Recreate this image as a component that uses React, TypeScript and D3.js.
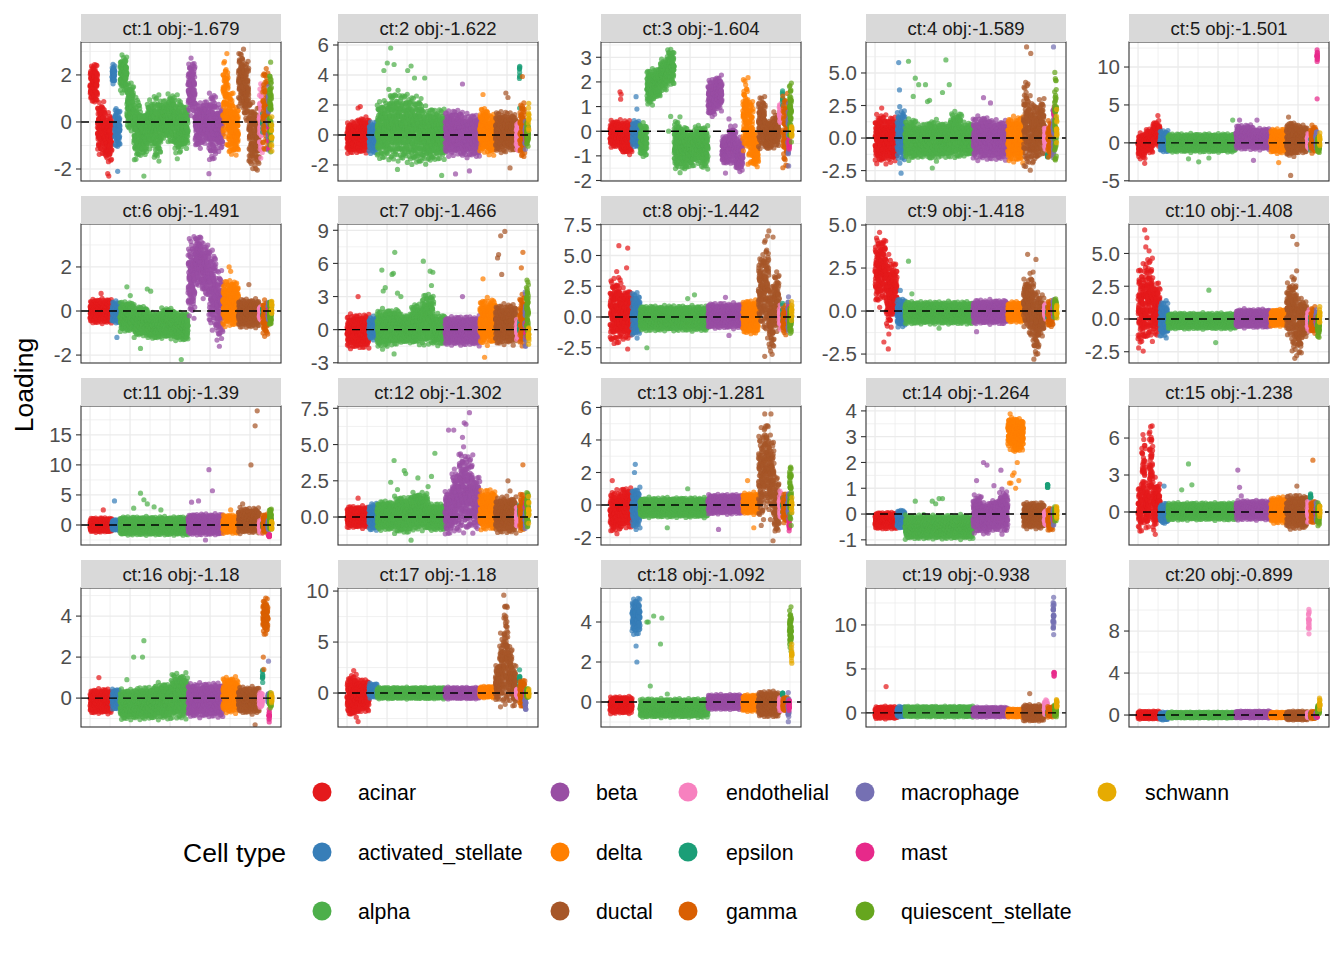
import * as d3 from 'd3';
import { useEffect, useRef } from 'react';

// cell types in plotting order (cells are sorted by type along x)
const cellTypes = [
    'acinar', 'activated_stellate', 'alpha', 'beta', 'delta', 'ductal', 'endothelial',
    'epsilon', 'gamma', 'macrophage', 'mast', 'quiescent_stellate', 'schwann',
];
const typeColors = [
    '#E41A1C', '#377EB8', '#4DAF4A', '#984EA3', '#FF7F00', '#A65628', '#F781BF',
    '#1B9E77', '#D95F02', '#7570B3', '#E7298A', '#66A61E', '#E6AB02',
];
// number of cells of each type (x axis = cell index)
const cellCounts = [550, 200, 1700, 870, 390, 520, 80, 8, 130, 25, 12, 50, 12];

const panelTitles = [
    'ct:1 obj:-1.679', 'ct:2 obj:-1.622', 'ct:3 obj:-1.604', 'ct:4 obj:-1.589', 'ct:5 obj:-1.501',
    'ct:6 obj:-1.491', 'ct:7 obj:-1.466', 'ct:8 obj:-1.442', 'ct:9 obj:-1.418', 'ct:10 obj:-1.408',
    'ct:11 obj:-1.39', 'ct:12 obj:-1.302', 'ct:13 obj:-1.281', 'ct:14 obj:-1.264', 'ct:15 obj:-1.238',
    'ct:16 obj:-1.18', 'ct:17 obj:-1.18', 'ct:18 obj:-1.092', 'ct:19 obj:-0.938', 'ct:20 obj:-0.899',
];

const yDomains: [number, number][] = [
    [-2.51, 3.4], [-3.07, 6.2], [-2.02, 3.62], [-3.3, 7.38], [-5.03, 13.3],
    [-2.36, 3.95], [-3.02, 9.57], [-3.74, 7.56], [-3.02, 5.06], [-3.36, 7.25],
    [-3.33, 19.8], [-1.93, 7.66], [-2.46, 6.09], [-1.2, 4.19], [-2.68, 8.6],
    [-1.41, 5.37], [-3.33, 10.3], [-1.25, 5.7], [-1.6, 14.2], [-1.14, 12.1],
];

const yTicks: number[][] = [
    [-2, 0, 2], [-2, 0, 2, 4, 6], [-2, -1, 0, 1, 2, 3], [-2.5, 0, 2.5, 5], [-5, 0, 5, 10],
    [-2, 0, 2], [-3, 0, 3, 6, 9], [-2.5, 0, 2.5, 5, 7.5], [-2.5, 0, 2.5, 5], [-2.5, 0, 2.5, 5],
    [0, 5, 10, 15], [0, 2.5, 5, 7.5], [-2, 0, 2, 4, 6], [-1, 0, 1, 2, 3, 4], [0, 3, 6],
    [0, 2, 4], [0, 5, 10], [0, 2, 4], [0, 5, 10], [0, 4, 8],
];

// per panel, per cell type: loading bands [low, high],
// one band per consecutive stretch of that type's cells
const bands: number[][][][] = [
    [
        [[0.7, 2.6], [-1.5, 1.0], [-1.8, 0.5]],
        [[1.6, 2.5], [-1.2, 0.8], [-1.2, 0.6]],
        [[1.2, 2.9], [-0.5, 1.8], [-1.8, 1.2], [-1.5, 0.5], [-1.2, 1.0], [-1.8, 1.3], [-0.8, 1.0], [-1.0, 1.3], [-1.6, 1.2], [-1.2, 0.8]],
        [[0.2, 2.8], [-1.2, 0.9], [-1.0, 1.0], [-1.8, 1.4], [-1.3, 0.8]],
        [[-1.0, 3.0], [-1.6, 1.5], [-1.5, 0.8]],
        [[0.5, 3.2], [-0.2, 2.8], [-2.1, 1.0], [-2.2, 0.8]],
        [[-1.8, 2.0]], [[-0.5, 0.5]], [[-1.5, 2.6]], [[-1.8, 2.0]], [[-1.5, 0.5]], [[-1.5, 2.7]], [[-1.5, 0.5]],
    ],
    [
        [[-1.3, 1.0], [-1.3, 1.3]],
        [[-1.3, 1.0]],
        [[-1.8, 2.5], [-1.9, 3.2], [-2.0, 3.0], [-2.2, 2.8], [-2.0, 2.0], [-1.8, 1.9]],
        [[-1.5, 1.8], [-1.6, 1.5]],
        [[-1.3, 2.0], [-1.5, 1.5]],
        [[-1.3, 1.7], [-1.2, 1.6]],
        [[-1.2, 1.0]], [[3.5, 5.0]], [[-1.8, 2.5]], [[-1.0, 1.0]], [[-0.5, 0.5]], [[-0.8, 1.0]], [[0.0, 2.4]],
    ],
    [
        [[-0.7, 0.5], [-1.0, 0.5]],
        [[-0.7, 0.5]],
        [[-1.1, 0.4], [1.0, 2.6], [1.3, 2.6], [1.6, 3.0], [1.8, 3.4], [-1.7, 0.6], [-1.7, 0.3], [-1.5, 0.1], [-1.4, 0.3], [-1.6, 0.3]],
        [[0.5, 2.2], [0.8, 2.3], [-1.4, -0.1], [-1.4, 0.3], [-1.7, -0.2]],
        [[-1.0, 2.3], [-1.5, 1.5], [-1.5, 0.0]],
        [[-0.8, 1.5], [-0.8, 0.5], [-0.7, 0.8]],
        [[0.3, 1.2]], [[0.9, 1.9]], [[-1.6, 1.7]], [[-1.5, 1.3]], [[-0.8, -0.2]], [[-0.5, 2.1]], [[-0.3, 0.3]],
    ],
    [
        [[-2.1, 2.0], [-2.0, 1.8]],
        [[-2.0, 2.5]],
        [[-1.8, 1.6], [-1.6, 1.2], [-1.8, 1.5], [-1.6, 1.3], [-1.7, 2.2], [-1.5, 1.3]],
        [[-1.8, 1.8], [-1.8, 1.5]],
        [[-2.0, 1.8]],
        [[-2.8, 5.0], [-2.5, 3.3], [-2.0, 2.8], [-1.5, 3.3]],
        [[-1.0, 1.0]], [[-1.5, -1.2]], [[-1.6, 1.5]], [[-2.2, 3.0]], [[1.5, 2.5]], [[-2.9, 5.7]], [[-0.5, 1.8]],
    ],
    [
        [[-2.2, 1.5], [-1.5, 2.0], [-0.5, 3.0]],
        [[-1.3, 1.8]],
        [[-1.3, 1.3]],
        [[-1.0, 2.5], [-1.0, 2.0]],
        [[-1.5, 2.0]],
        [[-2.0, 3.0], [-1.5, 2.5]],
        [[-1.0, 1.5]], [[-1.0, 0.5]], [[-1.5, 2.5]], [[-1.0, 2.0]], [[10.5, 12.5]], [[-1.5, 1.0]], [[-0.5, 1.5]],
    ],
    [
        [[-0.6, 0.6]],
        [[-0.6, 0.5]],
        [[-1.0, 0.5], [-1.2, 0.3], [-1.3, 0.0], [-1.3, 0.2], [-1.4, 0.0]],
        [[-0.5, 3.5], [1.0, 3.6], [0.5, 3.2], [-1.0, 3.0], [-1.5, 2.0]],
        [[-0.8, 1.5]],
        [[-0.8, 0.6]],
        [[-0.5, 0.3]], [[-0.3, 0.3]], [[-1.2, 0.6]], [[-0.5, 0.5]], [[-0.3, 0.3]], [[-0.7, 0.5]], [[-0.3, 0.6]],
    ],
    [
        [[-1.8, 1.5]],
        [[-1.0, 1.3]],
        [[-1.8, 2.0], [-1.5, 2.0], [-1.3, 1.5], [-1.5, 2.5], [-1.6, 3.5], [-1.5, 1.5]],
        [[-1.5, 1.3]],
        [[-1.5, 3.0]],
        [[-1.5, 2.5]],
        [[-1.0, 1.0]], [[-0.5, 1.0]], [[-1.8, 3.5]], [[-2.5, 4.0]], [[-1.0, 1.0]], [[-1.0, 4.8]], [[-1.5, 0.5]],
    ],
    [
        [[-2.5, 3.5], [-2.0, 2.5]],
        [[-1.8, 2.2]],
        [[-1.2, 1.0]],
        [[-1.0, 1.2]],
        [[-1.5, 1.5]],
        [[-1.0, 5.5], [-2.0, 7.0], [-3.3, 3.0], [-1.5, 4.0]],
        [[-1.0, 1.0]], [[-0.5, 1.5]], [[-1.5, 1.0]], [[-1.5, 2.0]], [[-0.5, 1.0]], [[-1.5, 1.0]], [[-0.5, 1.5]],
    ],
    [
        [[0.0, 4.7], [0.5, 4.5], [-1.5, 3.5], [-0.5, 3.0]],
        [[-1.0, 0.8]],
        [[-0.8, 0.6]],
        [[-0.8, 0.7]],
        [[-0.7, 0.6]],
        [[-1.0, 2.0], [-2.0, 2.5], [-2.8, 1.5], [-1.5, 1.0]],
        [[-0.5, 0.5]], [[-0.5, 0.3]], [[-1.0, 0.7]], [[-0.5, 0.8]], [[-0.3, 0.3]], [[-0.5, 0.8]], [[-0.5, 0.5]],
    ],
    [
        [[-2.6, 4.5], [-2.0, 5.0], [-1.5, 3.0]],
        [[-1.5, 1.5]],
        [[-0.8, 0.5]],
        [[-0.7, 0.8]],
        [[-0.6, 0.8]],
        [[-1.5, 3.0], [-3.0, 3.8], [-3.0, 2.0], [-1.5, 1.5]],
        [[-1.0, 0.8]], [[-0.5, 0.5]], [[-1.2, 1.0]], [[-0.5, 0.8]], [[-0.3, 0.3]], [[-1.5, 0.5]], [[-0.5, 1.2]],
    ],
    [
        [[-1.3, 1.3]],
        [[-1.0, 1.0]],
        [[-1.8, 1.5]],
        [[-1.8, 2.0]],
        [[-1.5, 1.8]],
        [[-1.5, 3.0]],
        [[-1.5, 1.0]], [[-0.5, 0.5]], [[-1.5, 2.0]], [[-1.0, 1.0]], [[-2.0, -1.5]], [[-1.0, 3.0]], [[-1.0, 1.0]],
    ],
    [
        [[-0.8, 0.8]],
        [[-1.0, 1.0]],
        [[-1.0, 1.2], [-1.2, 1.5], [-1.0, 1.8], [-1.0, 1.0]],
        [[-1.3, 2.0], [-1.2, 3.5], [-1.3, 5.0], [-1.3, 4.5], [-1.0, 3.0]],
        [[-1.0, 2.0]],
        [[-1.2, 1.5]],
        [[-0.8, 0.8]], [[0.0, 1.0]], [[-1.2, 1.8]], [[-1.0, 1.0]], [[0.5, 1.2]], [[-1.0, 2.0]], [[-0.5, 1.5]],
    ],
    [
        [[-1.8, 1.0], [-1.5, 1.2]],
        [[-1.5, 1.2]],
        [[-0.8, 0.5]],
        [[-0.6, 0.7]],
        [[-0.6, 0.8]],
        [[-1.5, 5.0], [-0.5, 5.5], [-1.0, 4.5], [-2.0, 2.0]],
        [[-1.0, 1.0]], [[-0.5, 0.5]], [[-1.2, 0.8]], [[-1.0, 1.0]], [[-1.8, -0.5]], [[-1.5, 2.9]], [[-0.5, 0.5]],
    ],
    [
        [[-0.6, 0.1]],
        [[-0.6, 0.2]],
        [[-1.0, 0.0]],
        [[-0.8, 0.8], [-0.8, 0.5], [-0.7, 0.6], [-0.8, 1.0]],
        [[2.5, 3.9], [2.3, 3.8], [2.4, 3.8]],
        [[-0.6, 0.5]],
        [[-0.5, 0.2]], [[1.0, 1.2]], [[-0.7, 0.3]], [[-0.5, 0.3]], [[-0.3, 0.0]], [[-0.3, 0.3]], [[-0.3, 0.4]],
    ],
    [
        [[-1.8, 2.5], [-2.0, 7.0], [-1.5, 2.5], [-1.0, 7.8], [-2.0, 3.0], [-1.0, 2.5]],
        [[-1.0, 0.8]],
        [[-0.7, 0.8]],
        [[-0.7, 1.0]],
        [[-1.0, 1.3]],
        [[-1.5, 1.5]],
        [[-1.0, 1.0]], [[1.0, 1.6]], [[-1.0, 1.0]], [[-1.0, 1.0]], [[-0.5, 0.5]], [[-1.2, 0.8]], [[-0.5, 0.7]],
    ],
    [
        [[-0.8, 0.5]],
        [[-0.6, 0.5]],
        [[-1.1, 0.5], [-1.1, 0.6], [-1.1, 0.8], [-1.1, 1.3]],
        [[-1.0, 0.8]],
        [[-0.8, 1.1]],
        [[-0.8, 0.6]],
        [[-0.5, 0.3]], [[0.7, 1.5]], [[3.0, 5.0]], [[-0.3, 0.3]], [[-1.2, -0.5]], [[-0.5, 0.3]], [[-0.3, 0.3]],
    ],
    [
        [[-2.5, 2.0], [-2.0, 1.5]],
        [[-0.5, 1.0]],
        [[-0.6, 0.6]],
        [[-0.6, 0.6]],
        [[-0.5, 0.7]],
        [[-1.0, 3.0], [-1.5, 6.0], [-2.0, 9.5], [-1.0, 5.0], [-1.5, 3.0]],
        [[-0.5, 0.5]], [[0.5, 2.5]], [[-1.5, 1.5]], [[-2.0, 0.5]], [[-0.5, 0.5]], [[-0.5, 0.5]], [[-0.5, 0.5]],
    ],
    [
        [[-0.6, 0.3]],
        [[3.3, 5.3]],
        [[-0.8, 0.2]],
        [[-0.4, 0.4]],
        [[-0.5, 0.4]],
        [[-0.8, 0.6]],
        [[-0.5, 0.3]], [[0.3, 0.5]], [[-0.5, 0.3]], [[-1.0, 0.5]], [[-0.5, 0.2]], [[2.5, 4.8]], [[1.8, 3.0]],
    ],
    [
        [[-0.7, 0.8]],
        [[-0.5, 0.8]],
        [[-0.5, 0.8]],
        [[-0.5, 0.7]],
        [[-0.5, 0.5]],
        [[-1.0, 1.0]],
        [[-0.3, 1.5]], [[-0.3, 0.3]], [[-0.5, 0.8]], [[8.7, 13.5]], [[4.0, 4.9], [-0.3, 0.3]], [[-0.5, 1.0]], [[0.5, 1.7]],
    ],
    [
        [[-0.4, 0.4]],
        [[-0.5, 0.3]],
        [[-0.3, 0.3]],
        [[-0.3, 0.4]],
        [[-0.3, 0.3]],
        [[-0.5, 0.4]],
        [[-0.3, 0.3], [7.5, 10.5], [-0.3, 0.3]], [[-0.3, 0.3]], [[-0.4, 0.4]], [[-0.3, 0.3]], [[-0.3, 0.3]], [[0.0, 1.0]], [[0.5, 1.7]],
    ],
];

// single stray cells: [type index, position within that type's cells (0-1), loading]
const outliers: [number, number, number][][] = [
    [[0, 0.8, -2.2], [0, 0.85, -2.3], [1, 0.7, -2.1], [2, 0.35, -2.3], [3, 0.6, -2.2]],
    [[2, 0.1, 4.3], [2, 0.15, 4.8], [2, 0.2, 5.8], [2, 0.25, 4.7], [2, 0.45, 4.3], [2, 0.5, 4.6], [2, 0.55, 3.8], [2, 0.7, 3.8],
     [2, 0.95, -2.7], [2, 0.3, -2.3], [0, 0.5, 1.8], [0, 0.6, 1.9], [3, 0.5, 3.4], [3, 0.3, -2.6], [3, 0.7, -2.4],
     [5, 0.5, 2.8], [5, 0.6, 2.5], [5, 0.7, -2.2], [4, 0.2, 2.7], [8, 0.5, 3.9], [7, 0.5, 1.8]],
    [[0, 0.45, 1.6], [0, 0.5, 1.5], [0, 0.48, 1.3], [1, 0.5, 1.4], [1, 0.6, 0.9], [2, 0.42, 0.0], [2, 0.45, 0.6], [3, 0.5, -1.7], [3, 0.6, 0.5]],
    [[0, 0.3, 2.3], [1, 0.3, 3.7], [1, 0.2, 5.8], [1, 0.5, -2.7], [2, 0.05, 5.9], [2, 0.12, 3.2], [2, 0.15, 4.6], [2, 0.2, 4.1],
     [2, 0.3, 4.1], [2, 0.33, 2.8], [2, 0.36, 2.9], [2, 0.55, 3.5], [2, 0.6, 6.0], [2, 0.65, 4.1], [2, 0.4, -2.3],
     [3, 0.3, 3.1], [3, 0.5, 2.7], [5, 0.15, 7.0], [5, 0.35, 6.5], [9, 0.5, 7.0], [12, 0.3, 2.2]],
    [[0, 0.3, -2.7], [0, 0.9, 3.6], [2, 0.3, -2.1], [2, 0.45, -2.5], [2, 0.6, -2.0], [2, 0.95, 3.0], [3, 0.1, 3.0], [3, 0.6, 3.0],
     [3, 0.5, -2.3], [5, 0.2, -4.3], [5, 0.1, 3.4], [10, 0.3, 5.8], [4, 0.5, -2.6]],
    [[0, 0.5, 0.8], [1, 0.6, -1.2], [2, 0.1, 1.1], [2, 0.15, 0.7], [2, 0.4, 1.0], [2, 0.45, 0.9], [2, 0.3, -1.7], [2, 0.9, -2.2],
     [4, 0.4, 2.0], [4, 0.5, 1.8], [5, 0.5, 1.2], [3, 0.9, -1.6]],
    [[0, 0.5, 3.0], [2, 0.07, 5.4], [2, 0.09, 3.5], [2, 0.12, 3.8], [2, 0.22, 5.0], [2, 0.24, 5.1], [2, 0.26, 7.0], [2, 0.3, 3.3],
     [2, 0.35, 3.0], [2, 0.68, 6.2], [2, 0.78, 5.3], [2, 0.82, 5.2], [2, 0.8, 4.0], [2, 0.25, -2.2], [3, 0.5, 3.0], [4, 0.2, 4.6],
     [4, 0.3, -2.5], [5, 0.1, 6.5], [5, 0.15, 6.8], [5, 0.25, 8.5], [5, 0.45, 8.9], [5, 0.3, 5.0], [8, 0.6, 7.0], [8, 0.3, 5.6]],
    [[0, 0.4, 5.8], [0, 0.8, 5.6], [0, 0.75, 4.0], [0, 0.3, 3.7], [0, 0.8, -2.6], [2, 0.1, -2.5], [2, 0.8, 1.8], [2, 0.7, 1.5],
     [3, 0.5, 1.6], [3, 0.6, -1.5], [5, 0.5, 7.0], [5, 0.7, 6.5], [5, 0.3, -3.2]],
    [[0, 0.6, -2.2], [0, 0.4, -1.8], [1, 0.4, 1.2], [2, 0.05, 2.9], [2, 0.1, 1.0], [2, 0.5, -1.0], [3, 0.1, -1.2],
     [5, 0.2, 3.3], [5, 0.6, 3.0], [5, 0.5, -2.8]],
    [[0, 0.3, 6.8], [0, 0.4, 6.2], [0, 0.35, 5.5], [0, 0.5, 5.2], [2, 0.6, 2.2], [2, 0.7, -1.8], [5, 0.3, 6.3], [5, 0.5, 5.7], [5, 0.4, -3.0]],
    [[0, 0.6, 2.5], [1, 0.3, 4.0], [2, 0.3, 5.3], [2, 0.35, 4.2], [2, 0.4, 3.5], [2, 0.2, 2.8], [2, 0.5, 3.0], [2, 0.6, 2.5],
     [3, 0.1, 3.8], [3, 0.3, 4.0], [3, 0.6, 9.2], [3, 0.7, 5.7], [3, 0.5, -2.5], [4, 0.5, 2.5], [5, 0.2, 3.5],
     [5, 0.6, 10.0], [5, 0.8, 16.5], [5, 0.9, 19.0]],
    [[0, 0.5, 1.3], [2, 0.25, 3.9], [2, 0.2, 2.4], [2, 0.4, 3.2], [2, 0.42, 3.0], [2, 0.3, 1.9], [2, 0.6, 2.7], [2, 0.75, 2.1],
     [2, 0.85, 4.4], [2, 0.8, 2.8], [2, 0.5, -1.6], [3, 0.1, 6.0], [3, 0.25, 6.0], [3, 0.55, 6.5], [3, 0.7, 7.2], [3, 0.6, 6.4],
     [3, 0.5, 5.5], [5, 0.6, 2.5], [5, 0.7, 1.8], [8, 0.6, 3.6]],
    [[0, 0.1, 1.5], [1, 0.4, 2.5], [1, 0.3, 2.0], [1, 0.5, -1.5], [2, 0.7, 1.0], [2, 0.4, -1.4], [3, 0.3, -1.5], [4, 0.3, 1.5],
     [4, 0.7, -1.4], [5, 0.3, 5.6], [5, 0.6, 5.6], [5, 0.7, -2.2]],
    [[2, 0.15, 0.5], [2, 0.4, 0.5], [2, 0.45, 0.4], [2, 0.5, 0.6], [2, 0.55, 0.6], [3, 0.3, 2.0], [3, 0.4, 1.9], [3, 0.1, 1.3],
     [3, 0.8, 1.7], [3, 0.6, 1.1], [4, 0.1, 1.2], [4, 0.3, 1.5], [4, 0.5, 1.0], [4, 0.6, 2.0], [4, 0.4, 1.6], [4, 0.7, 1.3], [4, 0.2, 1.2]],
    [[1, 0.5, 2.1], [2, 0.3, 3.9], [2, 0.2, 1.8], [2, 0.35, 2.2], [3, 0.05, 3.4], [3, 0.1, 2.0], [3, 0.15, 1.3], [5, 0.5, 2.1], [8, 0.4, 4.2]],
    [[0, 0.4, 1.0], [2, 0.2, 2.0], [2, 0.35, 2.8], [2, 0.33, 2.0], [2, 0.1, 0.9], [5, 0.8, -1.3], [8, 0.1, 2.0], [8, 0.2, 1.4], [9, 0.5, 1.8]],
    [[0, 0.5, -2.8], [0, 0.3, 2.2], [5, 0.4, 9.6], [5, 0.45, 8.5], [5, 0.5, 7.5], [5, 0.55, 7.0]],
    [[1, 0.5, 2.8], [1, 0.6, 2.0], [2, 0.1, 4.0], [2, 0.12, 4.0], [2, 0.2, 4.3], [2, 0.32, 4.2], [2, 0.3, 2.9], [2, 0.15, 0.8], [2, 0.4, 0.4]],
    [[0, 0.5, 3.0], [5, 0.3, 2.2], [6, 0.5, 1.5]],
    [],
];

const colLefts = [81, 338, 601, 866, 1129];
const rowTops = [42, 224, 406, 588];
const plotW = 200;
const plotH = 139;
const stripH = 28;
const FONT = '"Liberation Sans", Arial, Helvetica, sans-serif';

// radical inverse (van der Corput) — spreads cells evenly inside a band
const radInv = (i: number, base: number) => {
    let f = 1;
    let r = 0;
    while (i > 0) {
        f /= base;
        r += f * (i % base);
        i = Math.floor(i / base);
    }
    return r;
};

export default function App() {
    const chartRef = useRef<SVGSVGElement | null>(null);

    useEffect(() => {
        if (!chartRef.current) return;
        const svg = d3.select(chartRef.current);
        svg.selectAll('*').remove();
        svg.style('font-family', FONT);

        const total = d3.sum(cellCounts);
        const starts = cellCounts.map((_, i) => d3.sum(cellCounts.slice(0, i)));
        const defs = svg.append('defs');

        panelTitles.forEach((title, p) => {
            const left = colLefts[p % 5];
            const top = rowTops[Math.floor(p / 5)];
            const x = d3
                .scaleLinear()
                .domain([1 - 0.05 * (total - 1), total + 0.05 * (total - 1)])
                .range([left, left + plotW]);
            const y = d3.scaleLinear().domain(yDomains[p]).range([top + plotH, top]);
            const g = svg.append('g');

            defs.append('clipPath')
                .attr('id', `clip${p}`)
                .append('rect')
                .attr('x', left)
                .attr('y', top)
                .attr('width', plotW)
                .attr('height', plotH);

            g.append('rect').attr('x', left).attr('y', top).attr('width', plotW).attr('height', plotH).attr('fill', '#fff');

            // grid
            const ticks = yTicks[p];
            const step = ticks[1] - ticks[0];
            const [d0, d1] = yDomains[p];
            const minorY: number[] = [];
            for (let v = ticks[0] - step / 2; v <= d1; v += step) if (v >= d0) minorY.push(v);
            const majorX = d3.range(0, total + 1, 1000);
            const minorX = d3.range(500, total + 1, 1000);
            const grid = g.append('g').attr('clip-path', `url(#clip${p})`);
            grid.selectAll('line.minY').data(minorY).join('line')
                .attr('x1', left).attr('x2', left + plotW)
                .attr('y1', (d) => y(d)).attr('y2', (d) => y(d))
                .attr('stroke', '#EBEBEB').attr('stroke-width', 0.7);
            grid.selectAll('line.minX').data(minorX).join('line')
                .attr('y1', top).attr('y2', top + plotH)
                .attr('x1', (d) => x(d)).attr('x2', (d) => x(d))
                .attr('stroke', '#EBEBEB').attr('stroke-width', 0.7);
            grid.selectAll('line.majY').data(ticks).join('line')
                .attr('x1', left).attr('x2', left + plotW)
                .attr('y1', (d) => y(d)).attr('y2', (d) => y(d))
                .attr('stroke', '#EBEBEB').attr('stroke-width', 1.3);
            grid.selectAll('line.majX').data(majorX).join('line')
                .attr('y1', top).attr('y2', top + plotH)
                .attr('x1', (d) => x(d)).attr('x2', (d) => x(d))
                .attr('stroke', '#EBEBEB').attr('stroke-width', 1.3);

            // cells: spread along each type's index range, inside the bands
            const pts: { cx: number; cy: number; t: number }[] = [];
            cellTypes.forEach((_, t) => {
                const segs = bands[p][t];
                const n = cellCounts[t] <= 60 ? cellCounts[t] : Math.round(cellCounts[t] / 1.6);
                for (let i = 0; i < n; i++) {
                    const f = (i + radInv(i + 1, 5)) / n;
                    const [lo, hi] = segs[Math.min(segs.length - 1, Math.floor(f * segs.length))];
                    const u = 0.55 * radInv(i + 1 + p * 7, 2) + 0.45 * radInv(i + 1 + t * 11, 3);
                    pts.push({ cx: x(starts[t] + 1 + f * (cellCounts[t] - 1)), cy: y(lo + (hi - lo) * u), t });
                }
                outliers[p]
                    .filter((o) => o[0] === t)
                    .forEach((o) => pts.push({ cx: x(starts[t] + 1 + o[1] * cellCounts[t]), cy: y(o[2]), t }));
            });

            g.append('g')
                .attr('clip-path', `url(#clip${p})`)
                .selectAll('circle')
                .data(pts)
                .join('circle')
                .attr('cx', (d) => d.cx)
                .attr('cy', (d) => d.cy)
                .attr('r', 2.6)
                .attr('fill', (d) => typeColors[d.t])
                .attr('fill-opacity', 0.72);

            g.append('line')
                .attr('x1', left).attr('x2', left + plotW)
                .attr('y1', y(0)).attr('y2', y(0))
                .attr('stroke', '#000').attr('stroke-width', 1.4)
                .attr('stroke-dasharray', '8,6');

            g.append('rect')
                .attr('x', left).attr('y', top).attr('width', plotW).attr('height', plotH)
                .attr('fill', 'none').attr('stroke', '#333333').attr('stroke-width', 1.1);

            // y axis
            const fmt = ticks.some((v) => !Number.isInteger(v)) ? d3.format('.1f') : d3.format('d');
            const ax = g.append('g');
            ax.selectAll('line').data(ticks).join('line')
                .attr('x1', left - 5).attr('x2', left)
                .attr('y1', (d) => y(d)).attr('y2', (d) => y(d))
                .attr('stroke', '#333333').attr('stroke-width', 1.1);
            ax.selectAll('text').data(ticks).join('text')
                .attr('x', left - 9)
                .attr('y', (d) => y(d))
                .attr('dy', '0.36em')
                .attr('text-anchor', 'end')
                .attr('font-size', 20.5)
                .attr('fill', '#4D4D4D')
                .text((d) => fmt(d).replace('\u2212', '-'));

            // strip
            g.append('rect')
                .attr('x', left).attr('y', top - stripH).attr('width', plotW).attr('height', stripH)
                .attr('fill', '#D9D9D9');
            g.append('text')
                .attr('x', left + plotW / 2)
                .attr('y', top - stripH / 2)
                .attr('dy', '0.36em')
                .attr('text-anchor', 'middle')
                .attr('font-size', 18.5)
                .attr('fill', '#1A1A1A')
                .text(title);
        });

        svg.append('text')
            .attr('transform', 'translate(33,385) rotate(-90)')
            .attr('text-anchor', 'middle')
            .attr('font-size', 26.5)
            .attr('fill', '#000')
            .text('Loading');

        // legend
        const keyX = [322, 560, 688, 865, 1107];
        const labelX = [358, 596, 726, 901, 1145];
        const rowY = [792, 852, 911];
        svg.append('text')
            .attr('x', 183).attr('y', 852).attr('dy', '0.36em')
            .attr('font-size', 26.5).attr('fill', '#000')
            .text('Cell type');
        const lg = svg.append('g');
        cellTypes.forEach((name, k) => {
            const c = Math.floor(k / 3);
            const r = k % 3;
            lg.append('circle').attr('cx', keyX[c]).attr('cy', rowY[r]).attr('r', 9.5).attr('fill', typeColors[k]);
            lg.append('text')
                .attr('x', labelX[c]).attr('y', rowY[r]).attr('dy', '0.36em')
                .attr('font-size', 21.3).attr('fill', '#000')
                .text(name);
        });
    }, []);

    return (
        <svg
            ref={chartRef}
            width={1344}
            height={960}
            style={{ position: 'absolute', left: 0, top: 0, background: '#fff' }}
        />
    );
}
